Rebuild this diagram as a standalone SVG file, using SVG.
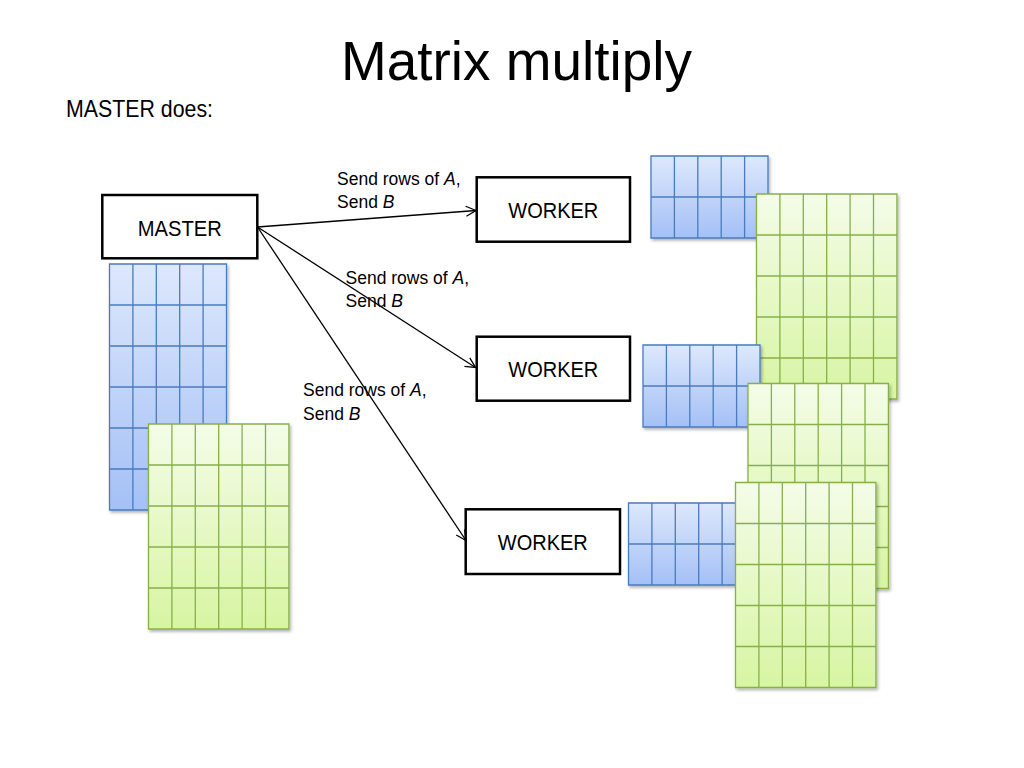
<svg xmlns="http://www.w3.org/2000/svg" xmlns:xlink="http://www.w3.org/1999/xlink" width="1024" height="768" viewBox="0 0 1024 768">
<style>
.txt{font-family:"Liberation Sans",Arial,sans-serif;fill:#000}
.box{fill:#fff;stroke:#000;stroke-width:2.5}
.conn{stroke:#000;stroke-width:1.3;fill:none;marker-end:url(#arr)}
.lbl{font-family:"Liberation Sans",Arial,sans-serif;font-size:17.5px;fill:#000}
.bgrid{fill:none;stroke:#4a7bbe;stroke-width:1.3}
.ggrid{fill:none;stroke:#88b049;stroke-width:1.3}
</style>
<defs>
<linearGradient id="gBlue" x1="0" y1="0" x2="0" y2="1">
<stop offset="0" stop-color="#dde8fc"/>
<stop offset="1" stop-color="#a4c0f6"/>
</linearGradient>
<linearGradient id="gGreen" x1="0" y1="0" x2="0" y2="1">
<stop offset="0" stop-color="#f4fce8"/>
<stop offset="1" stop-color="#d7f5a2"/>
</linearGradient>
<filter id="sh" x="-10%" y="-10%" width="130%" height="130%">
<feDropShadow dx="1.5" dy="2" stdDeviation="1.5" flood-color="#000" flood-opacity="0.3"/>
</filter>
<marker id="arr" markerUnits="userSpaceOnUse" markerWidth="14" markerHeight="12" refX="11" refY="5" orient="auto" overflow="visible">
<path d="M1,0 L11,5 L1,10" fill="none" stroke="#000" stroke-width="1.3"/>
</marker>
<g id="blue56">
<rect x="0" y="0" width="117" height="246" fill="url(#gBlue)"/>
<path class="bgrid" d="M0 0H117V246H0Z M23.4 0V246 M46.8 0V246 M70.2 0V246 M93.6 0V246 M0 41H117 M0 82H117 M0 123H117 M0 164H117 M0 205H117"/>
</g>
<g id="blue52">
<rect x="0" y="0" width="117" height="82" fill="url(#gBlue)"/>
<path class="bgrid" d="M0 0H117V82H0Z M23.4 0V82 M46.8 0V82 M70.2 0V82 M93.6 0V82 M0 41H117"/>
</g>
<g id="green65">
<rect x="0" y="0" width="140.4" height="205" fill="url(#gGreen)"/>
<path class="ggrid" d="M0 0H140.4V205H0Z M23.4 0V205 M46.8 0V205 M70.2 0V205 M93.6 0V205 M117 0V205 M0 41H140.4 M0 82H140.4 M0 123H140.4 M0 164H140.4"/>
</g>
</defs>
<rect width="1024" height="768" fill="#fff"/>
<g id="title">
<text class="txt" x="341" y="80" font-size="56" textLength="351" lengthAdjust="spacingAndGlyphs">Matrix multiply</text>
<text class="txt" x="66" y="117" font-size="24" textLength="147" lengthAdjust="spacingAndGlyphs">MASTER does:</text>
</g>
<g id="master-matrices">
<use xlink:href="#blue56" href="#blue56" x="109.5" y="264" filter="url(#sh)"/>
<use xlink:href="#green65" href="#green65" x="148.5" y="424" filter="url(#sh)"/>
</g>
<g id="worker1-matrices">
<use xlink:href="#blue52" href="#blue52" x="651" y="156" filter="url(#sh)"/>
<use xlink:href="#green65" href="#green65" x="756.5" y="194" filter="url(#sh)"/>
</g>
<g id="worker2-matrices">
<use xlink:href="#blue52" href="#blue52" x="643" y="345" filter="url(#sh)"/>
<use xlink:href="#green65" href="#green65" x="748" y="383.5" filter="url(#sh)"/>
</g>
<g id="worker3-matrices">
<use xlink:href="#blue52" href="#blue52" x="628.5" y="503" filter="url(#sh)"/>
<use xlink:href="#green65" href="#green65" x="735.5" y="482.5" filter="url(#sh)"/>
</g>
<g id="master">
<rect class="box" x="102.3" y="195" width="155" height="63.3"/>
<text class="txt" x="179.8" y="235.7" font-size="22" text-anchor="middle" textLength="84" lengthAdjust="spacingAndGlyphs">MASTER</text>
</g>
<g id="worker1">
<rect class="box" x="476.7" y="177.3" width="153.3" height="64.4"/>
<text class="txt" x="553.3" y="218.3" font-size="22" text-anchor="middle" textLength="90" lengthAdjust="spacingAndGlyphs">WORKER</text>
</g>
<g id="worker2">
<rect class="box" x="476.7" y="336.7" width="153.3" height="64"/>
<text class="txt" x="553.3" y="377.3" font-size="22" text-anchor="middle" textLength="90" lengthAdjust="spacingAndGlyphs">WORKER</text>
</g>
<g id="worker3">
<rect class="box" x="465.7" y="509.3" width="154.3" height="64.7"/>
<text class="txt" x="542.8" y="550" font-size="22" text-anchor="middle" textLength="90" lengthAdjust="spacingAndGlyphs">WORKER</text>
</g>
<g id="connectors">
<line class="conn" x1="257.5" y1="227" x2="476" y2="210.5"/>
<line class="conn" x1="257.5" y1="227" x2="475.5" y2="367.5"/>
<line class="conn" x1="257.5" y1="227" x2="466" y2="540.5"/>
</g>
<g id="labels">
<text class="lbl" x="337" y="185">Send rows of <tspan font-style="italic">A</tspan>,</text>
<text class="lbl" x="337" y="208">Send <tspan font-style="italic">B</tspan></text>
<text class="lbl" x="345.5" y="284">Send rows of <tspan font-style="italic">A</tspan>,</text>
<text class="lbl" x="345.5" y="307">Send <tspan font-style="italic">B</tspan></text>
<text class="lbl" x="303" y="396">Send rows of <tspan font-style="italic">A</tspan>,</text>
<text class="lbl" x="303" y="419.5">Send <tspan font-style="italic">B</tspan></text>
</g>
</svg>
